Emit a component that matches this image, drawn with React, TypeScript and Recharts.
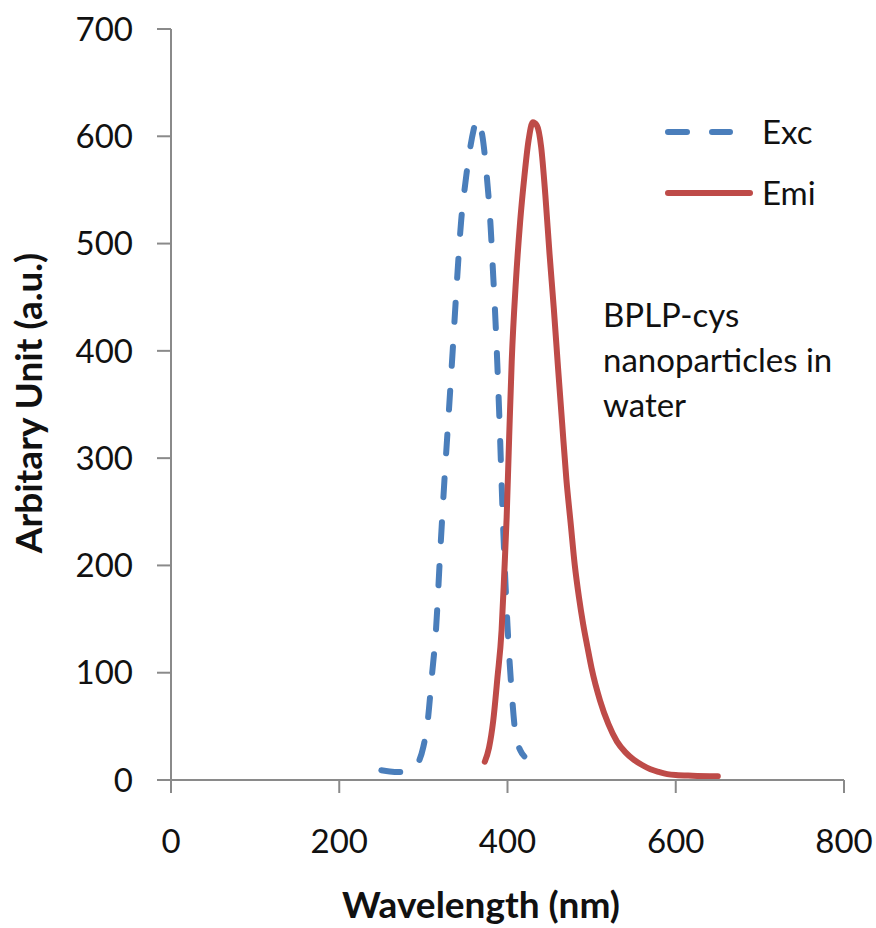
import React from 'react';
import { LineChart, Line, XAxis, YAxis, Legend } from 'recharts';

// excitation spectrum (dashed blue)
const excWavelength = [250, 260, 270, 280, 290, 295, 300, 305, 310, 315, 320, 325, 330, 335, 340, 345, 350, 355, 360, 363, 366, 370, 375, 380, 383, 385, 390, 395, 400, 405, 410, 415, 420];
const excIntensity = [9, 8, 7.5, 8, 11, 18, 31, 54, 96, 140, 212, 279, 340, 402, 466, 522, 557, 586, 607, 616, 612, 601, 566, 515, 470, 440, 345, 232, 144, 82, 40, 28, 22];

// emission spectrum (solid red)
const emiWavelength = [373, 378, 383, 388, 393, 396, 399, 402, 405, 410, 415, 420, 425, 430, 435, 440, 445, 450, 455, 460, 465, 470, 475, 480, 485, 490, 495, 500, 510, 520, 530, 540, 550, 560, 570, 580, 590, 600, 620, 650];
const emiIntensity = [17, 30, 55, 95, 140, 190, 245, 320, 390, 465, 520, 562, 596, 613, 610, 590, 545, 490, 440, 385, 332, 280, 240, 200, 170, 145, 124, 104, 74, 52, 36, 26, 19, 14, 10, 7.5, 5.5, 4.6, 4, 3.5];

const xTicks = [0, 200, 400, 600, 800];
const yTicks = [0, 100, 200, 300, 400, 500, 600, 700];
const seriesNames = ['Exc', 'Emi'];
const noteLines = ['BPLP-cys', 'nanoparticles in', 'water'];

const FONT = 'Lato, "Open Sans", sans-serif';
const TEXT = '#111';
const AXIS = '#8a8a8a';
const BLUE = '#4a7ebb';
const RED = '#be4b48';

const toPoints = (xs: number[], ys: number[]) => xs.map((x, i) => ({ x, y: ys[i] }));
const excData = toPoints(excWavelength, excIntensity);
const emiData = toPoints(emiWavelength, emiIntensity);

const XTitle = () => (
  <text x={481} y={918} textAnchor="middle" fontFamily={FONT} fontSize={37} fontWeight={700} fill={TEXT}>
    Wavelength (nm)
  </text>
);

const YTitle = () => (
  <text transform="translate(42, 403) rotate(-90)" textAnchor="middle" fontFamily={FONT} fontSize={37} fontWeight={700} fill={TEXT}>
    Arbitary Unit (a.u.)
  </text>
);

const renderLegend = () => (
  <svg width={220} height={130}>
    <line x1={18} y1={32} x2={80} y2={32} stroke={BLUE} strokeWidth={6} strokeDasharray="19 25" strokeLinecap="round" />
    <text x={112} y={44} fontFamily={FONT} fontSize={33} fill={TEXT}>{seriesNames[0]}</text>
    <line x1={18} y1={93} x2={100} y2={93} stroke={RED} strokeWidth={6} strokeLinecap="round" />
    <text x={112} y={105} fontFamily={FONT} fontSize={33} fill={TEXT}>{seriesNames[1]}</text>
  </svg>
);

export default function App() {
  return (
    <div style={{ position: 'absolute', left: 0, top: 0, width: 876, height: 928, background: '#fff' }}>
      <LineChart width={876} height={928} margin={{ top: 29, right: 32, bottom: 0, left: 0 }}>
        <XAxis
          type="number"
          dataKey="x"
          domain={[0, 800]}
          ticks={xTicks}
          height={148}
          tickSize={13}
          tickMargin={37}
          axisLine={{ stroke: AXIS, strokeWidth: 2 }}
          tickLine={{ stroke: AXIS, strokeWidth: 2 }}
          tick={{ fontFamily: FONT, fontSize: 33, fill: TEXT }}
          label={<XTitle />}
        />
        <YAxis
          type="number"
          domain={[0, 700]}
          ticks={yTicks}
          width={171}
          tickSize={14}
          tickMargin={24}
          axisLine={{ stroke: AXIS, strokeWidth: 2 }}
          tickLine={{ stroke: AXIS, strokeWidth: 2 }}
          tick={{ fontFamily: FONT, fontSize: 33, fill: TEXT }}
          label={<YTitle />}
        />
        <Line
          data={excData}
          dataKey="y"
          name={seriesNames[0]}
          type="monotone"
          stroke={BLUE}
          strokeWidth={6}
          strokeDasharray="19 25"
          strokeLinecap="round"
          dot={false}
          activeDot={false}
          isAnimationActive={false}
        />
        <Line
          data={emiData}
          dataKey="y"
          name={seriesNames[1]}
          type="monotone"
          stroke={RED}
          strokeWidth={6}
          strokeLinecap="round"
          dot={false}
          activeDot={false}
          isAnimationActive={false}
        />
        <Legend
          layout="vertical"
          align="center"
          verticalAlign="middle"
          content={renderLegend}
          wrapperStyle={{ left: 650, top: 100, width: 220, height: 130 }}
        />
      </LineChart>
      <svg width={876} height={928} style={{ position: 'absolute', left: 0, top: 0, pointerEvents: 'none' }}>
        {noteLines.map((t, i) => (
          <text key={t} x={603} y={327 + i * 45} fontFamily={FONT} fontSize={33} fill={TEXT}>
            {t}
          </text>
        ))}
      </svg>
    </div>
  );
}
